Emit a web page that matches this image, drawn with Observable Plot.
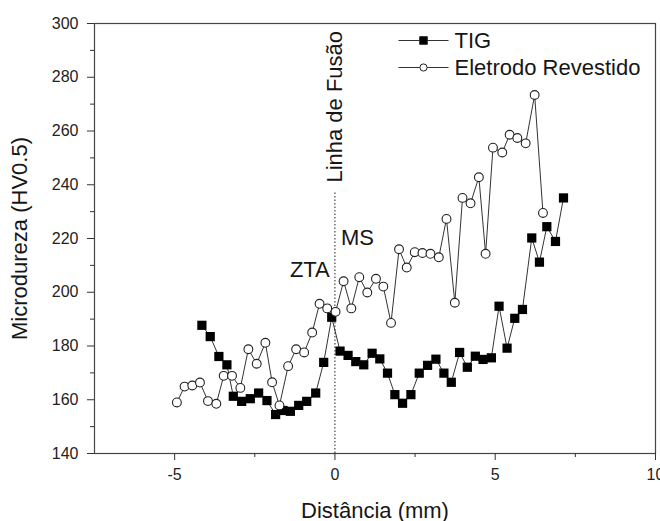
<!DOCTYPE html>
<html>
<head>
<meta charset="utf-8">
<script src="https://cdn.jsdelivr.net/npm/d3@7"></script>
<script src="https://cdn.jsdelivr.net/npm/@observablehq/plot@0.6"></script>
<style>
  html, body { margin: 0; padding: 0; background: #fff; }
  #chart { width: 660px; height: 521px; }
</style>
</head>
<body>
<div id="chart"></div>
<script>
// ---- Data ----
const tigX = [-4.15, -3.89, -3.62, -3.37, -3.17, -2.91, -2.64, -2.38, -2.12, -1.85, -1.62, -1.39, -1.13, -0.88, -0.60, -0.35, -0.10,
  0.16, 0.41, 0.65, 0.90, 1.16, 1.40, 1.64, 1.87, 2.11, 2.37, 2.63, 2.89, 3.15, 3.40, 3.63, 3.89, 4.13, 4.38, 4.62, 4.88,
  5.12, 5.37, 5.61, 5.85, 6.14, 6.38, 6.61, 6.88, 7.13];
const tigY = [187.7, 183.5, 176.1, 173.0, 161.3, 159.4, 160.4, 162.5, 159.7, 154.5, 156.0, 155.7, 157.9, 159.4, 162.5, 173.9, 190.7,
  178.1, 176.5, 174.2, 173.0, 177.3, 175.2, 169.9, 161.9, 158.7, 161.9, 169.9, 172.8, 175.1, 169.9, 166.5, 177.6, 172.1, 176.2, 175.0, 175.6,
  194.8, 179.2, 190.3, 193.6, 220.2, 211.2, 224.4, 218.9, 235.1];

const elX = [-4.93, -4.69, -4.45, -4.21, -3.96, -3.70, -3.47, -3.21, -2.95, -2.70, -2.44, -2.17, -1.96, -1.73, -1.46, -1.21, -0.96, -0.71, -0.48, -0.24,
  0.02, 0.27, 0.51, 0.76, 1.01, 1.28, 1.51, 1.75, 2.00, 2.24, 2.49, 2.73, 2.98, 3.24, 3.48, 3.74, 3.98, 4.23, 4.49, 4.70, 4.93,
  5.22, 5.45, 5.69, 5.95, 6.23, 6.49];
const elY = [159.0, 164.9, 165.3, 166.4, 159.5, 158.5, 168.9, 168.9, 164.4, 178.8, 173.4, 181.2, 166.5, 157.9, 172.5, 178.8, 177.6, 185.0, 195.7, 194.0,
  192.7, 204.1, 194.0, 205.6, 199.9, 205.0, 202.1, 188.6, 216.0, 209.2, 214.9, 214.6, 214.3, 213.0, 227.3, 196.1, 235.1, 233.1, 242.8, 214.3, 253.8,
  252.0, 258.6, 257.4, 255.4, 273.4, 229.5];

const seriesNames = ["TIG", "Eletrodo Revestido"];
const xTicks = [-5, 0, 5, 10];
const xMinorTicks = [-2.5, 2.5, 7.5];
const yTicks = [140, 160, 180, 200, 220, 240, 260, 280, 300];
const yMinorTicks = [150, 170, 190, 210, 230, 250, 270, 290];
const xLabel = "Distância (mm)";
const yLabel = "Microdureza (HV0.5)";

// annotations (data coordinates)
const fusionX = 0;
const fusionTopY = 237;
const fusionLabel = "Linha de Fusão";
const fusionLabelY = 240.8;
const ztaLabel = { text: "ZTA", x: -0.16, y: 205.5 };
const msLabel = { text: "MS", x: 0.19, y: 217.4 };

// ---- Build tables ----
const tig = tigX.map((x, i) => ({ x, y: tigY[i] }));
const el = elX.map((x, i) => ({ x, y: elY[i] }));

const lineColor = "#333";
const textColor = "#161616";
const font = "'Liberation Sans', Arial, Helvetica, sans-serif";
const bigFont = 22;

// legend symbol: a short horizontal line
const legendLine = { draw(ctx) { ctx.moveTo(-25, 0); ctx.lineTo(25, 0); } };
const legendRows = [
  { name: seriesNames[0], symbol: "square", fill: "#000", r: 4.3, dy: 17 },
  { name: seriesNames[1], symbol: "circle", fill: "#fff", r: 3.6, dy: 44 }
];
const legendMarks = legendRows.flatMap(row => [
  Plot.dot([row], { frameAnchor: "top-left", dx: 329, dy: row.dy, symbol: legendLine, r: 5, stroke: lineColor, strokeWidth: 1, fill: "none" }),
  Plot.dot([row], { frameAnchor: "top-left", dx: 329, dy: row.dy, symbol: row.symbol, r: row.r, fill: row.fill, stroke: "#222", strokeWidth: 1 }),
  Plot.text([row], { frameAnchor: "top-left", dx: 360, dy: row.dy, text: "name", textAnchor: "start", lineAnchor: "middle", fontSize: bigFont, fill: textColor })
]);

const chart = Plot.plot({
  width: 660,
  height: 521,
  marginLeft: 94,
  marginRight: 5,
  marginTop: 23,
  marginBottom: 68,
  style: { fontFamily: font, fontSize: "16px", color: "#222", background: "#fff", overflow: "visible" },
  x: { domain: [-7.5, 10] },
  y: { domain: [140, 300] },
  marks: [
    Plot.frame({ stroke: "#444", strokeWidth: 1.2 }),
    Plot.axisX({ ticks: xTicks, tickSize: 7, tickPadding: 8, tickFormat: d => String(d), label: null, fontSize: 16, stroke: "#333" }),
    Plot.axisX({ ticks: xMinorTicks, tickSize: 4, text: null, label: null, stroke: "#333" }),
    Plot.axisY({ ticks: yTicks, tickSize: 7, tickPadding: 9, tickFormat: d => String(d), label: null, fontSize: 16, stroke: "#333" }),
    Plot.axisY({ ticks: yMinorTicks, tickSize: 4, text: null, label: null, stroke: "#333" }),
    // axis titles
    Plot.text([xLabel], { frameAnchor: "bottom", dy: 64, textAnchor: "middle", lineAnchor: "bottom", fontSize: bigFont, fill: textColor }),
    Plot.text([yLabel], { frameAnchor: "left", dx: -75, rotate: -90, textAnchor: "middle", lineAnchor: "middle", fontSize: bigFont, fill: textColor }),
    // fusion line
    Plot.ruleX([fusionX], { y1: 140, y2: fusionTopY, stroke: "#222", strokeWidth: 1, strokeDasharray: "1.5,2" }),
    Plot.text([fusionLabel], { x: fusionX, y: fusionLabelY, rotate: -90, textAnchor: "start", lineAnchor: "middle", fontSize: bigFont, fill: textColor }),
    Plot.text([ztaLabel], { x: "x", y: "y", text: "text", textAnchor: "end", lineAnchor: "bottom", fontSize: bigFont, fill: textColor }),
    Plot.text([msLabel], { x: "x", y: "y", text: "text", textAnchor: "start", lineAnchor: "bottom", fontSize: bigFont, fill: textColor }),
    // series
    Plot.line(tig, { x: "x", y: "y", stroke: lineColor, strokeWidth: 1 }),
    Plot.line(el, { x: "x", y: "y", stroke: lineColor, strokeWidth: 1 }),
    Plot.dot(tig, { x: "x", y: "y", symbol: "square", r: 5.2, fill: "#000", stroke: "none" }),
    Plot.dot(el, { x: "x", y: "y", symbol: "circle", r: 4.4, fill: "#fff", stroke: "#222", strokeWidth: 1.1 }),
    ...legendMarks
  ]
});

document.getElementById("chart").appendChild(chart);
</script>
</body>
</html>
